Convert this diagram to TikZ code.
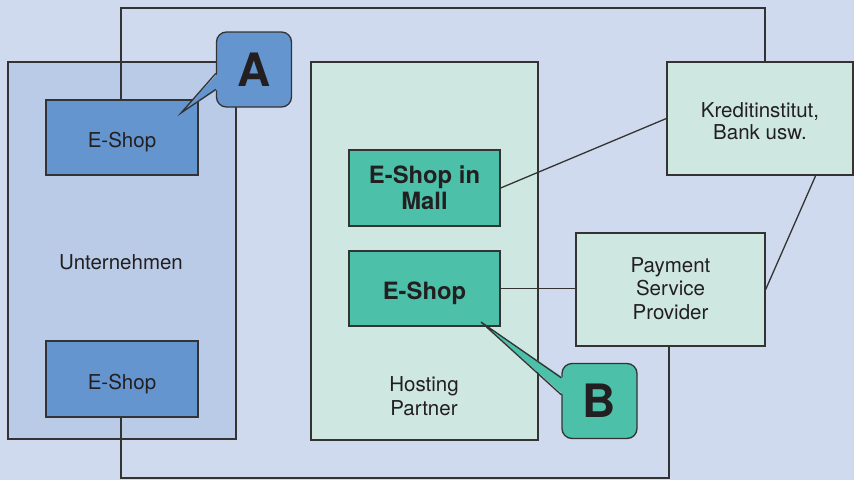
\documentclass[tikz,border=0pt]{standalone}
\usepackage{fontspec}
\setmainfont{TeX Gyre Heros}
\usetikzlibrary{calc}
\definecolor{bgc}{HTML}{CFDAEE}
\definecolor{unterc}{HTML}{BACBE7}
\definecolor{bluec}{HTML}{6595CF}
\definecolor{mintc}{HTML}{CEE8E1}
\definecolor{greenc}{HTML}{4CC0A9}
\definecolor{linec}{HTML}{333333}
\definecolor{txtc}{HTML}{231F20}
\begin{document}
\begin{tikzpicture}[x=1pt,y=-1pt,
  box/.style={draw=linec,line width=1.3pt,rectangle,inner sep=0pt,text=txtc,align=center},
  plain/.style={font=\fontsize{20.5}{23.5}\selectfont},
  boldt/.style={font=\fontsize{23.8}{26}\selectfont\bfseries},
  callout/.style={box,rounded corners=10pt,minimum width=75pt,minimum height=75pt,font=\fontsize{46}{46}\selectfont\bfseries},
  conn/.style={draw=linec,line width=1.3pt}]
\fill[bgc] (0,0) rectangle (854,480);
\useasboundingbox (0,0) rectangle (854,480);

% containers
\node[box,fill=unterc,minimum width=228pt,minimum height=377pt] (unter) at (122,250.5) {};
\node[plain,text=txtc] (unterlbl) at (121,262) {Unternehmen};
\node[box,fill=mintc,minimum width=227pt,minimum height=378pt] (host) at (424.5,251) {};
\node[plain,text=txtc,align=center,text height=38pt,text depth=0pt] (hostlbl) at (424,396) {Hosting\\Partner};

% boxes
\node[box,plain,fill=bluec,minimum width=152pt,minimum height=75pt,text height=19pt,text depth=0pt] (eshopA) at (122,137.5) {E-Shop};
\node[box,plain,fill=bluec,minimum width=152pt,minimum height=76pt,text height=20pt,text depth=0pt] (eshopA2) at (122,379) {E-Shop};
\node[box,boldt,fill=greenc,minimum width=151pt,minimum height=76pt,text height=42pt,text depth=0pt] (mall) at (424.5,188) {E-Shop in\\Mall};
\node[box,boldt,fill=greenc,minimum width=151pt,minimum height=75pt,text height=21pt,text depth=0pt] (eshopB) at (424.5,288.5) {E-Shop};
\node[box,plain,fill=mintc,minimum width=189pt,minimum height=113pt,text height=59pt,text depth=0pt] (pay) at (670.5,289.5) {Payment\\Service\\Provider};
\node[box,font=\fontsize{20.5}{22}\selectfont,fill=mintc,minimum width=186pt,minimum height=113pt,text height=41pt,text depth=0pt] (kredit) at (760,118.5) {Kreditinstitut,\\Bank usw.};

% outline connectors
\coordinate (tl) at (121,8);
\coordinate (tr) at (765,8);
\coordinate (bl) at (121,478);
\coordinate (br) at (669,478);
\draw[conn] (eshopA.north -| tl) -- (tl) -- (tr) -- (tr |- kredit.north);
\draw[conn] (eshopA2.south -| bl) -- (bl) -- (br) -- (br |- pay.south);

% other connectors
\draw[conn] (mall.east) -- (kredit.west);
\draw[conn] (eshopB.east) -- (eshopB.east -| pay.west);
\coordinate (kb) at ($(kredit.south east)+(-38,0)$);
\draw[conn] (pay.east) -- (kb);

% callout A
\node[callout,fill=bluec] (calA) at (254,69.5) {A};
\coordinate (tipA) at (181,113);
\coordinate (a1) at ($(calA.north west)+(0,42)$);
\coordinate (a2) at ($(calA.north west)+(0,58)$);
\fill[bluec] (tipA) -- ($(a1)+(2,0)$) -- ($(a2)+(2,0)$) -- cycle;
\draw[conn,line join=miter] (a1) -- (tipA) -- (a2);

% callout B
\node[callout,fill=greenc] (calB) at (599.5,401) {B};
\coordinate (tipB) at (481,322);
\coordinate (b1) at ($(calB.north west)+(0,15)$);
\coordinate (b2) at ($(calB.north west)+(0,32)$);
\fill[greenc] (tipB) -- ($(b1)+(2,0)$) -- ($(b2)+(2,0)$) -- cycle;
\draw[conn,line join=miter] (b1) -- (tipB) -- (b2);
\end{tikzpicture}
\end{document}
